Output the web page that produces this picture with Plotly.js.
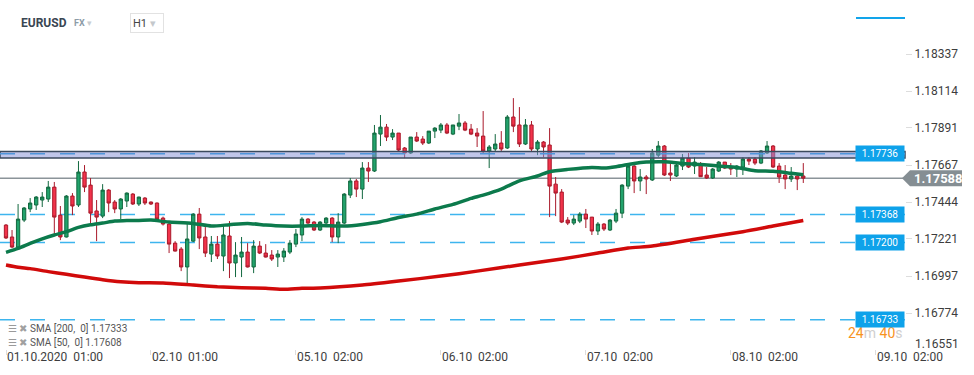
<!DOCTYPE html>
<html><head><meta charset="utf-8">
<script src="https://cdn.plot.ly/plotly-3.0.1.min.js"></script>
<style>html,body{margin:0;padding:0;background:#fff;}#chart{width:974px;height:375px;}</style>
</head><body><div id="chart"></div>
<script>
// ---- data (EURUSD H1) ----
const openP = [1.17305,1.17233,1.17172,1.17335,1.17402,1.17426,1.17456,1.17462,1.17534,1.17365,1.17233,1.17480,1.17426,1.17625,1.17546,1.17390,1.17359,1.17516,1.17444,1.17402,1.17450,1.17492,1.17432,1.17468,1.17444,1.17438,1.17347,1.17311,1.17196,1.17160,1.17052,1.17208,1.17371,1.17233,1.17130,1.17190,1.17118,1.17239,1.17076,1.17112,1.17142,1.17052,1.17178,1.17136,1.17124,1.17112,1.17112,1.17142,1.17190,1.17245,1.17341,1.17323,1.17275,1.17317,1.17347,1.17233,1.17317,1.17486,1.17571,1.17522,1.17649,1.17631,1.17854,1.17896,1.17836,1.17860,1.17770,1.17740,1.17836,1.17824,1.17800,1.17872,1.17878,1.17909,1.17854,1.17902,1.17921,1.17884,1.17860,1.17842,1.17752,1.17764,1.17800,1.17770,1.17957,1.17909,1.17794,1.17909,1.17764,1.17806,1.17788,1.17552,1.17504,1.17335,1.17317,1.17329,1.17371,1.17353,1.17269,1.17311,1.17275,1.17329,1.17377,1.17540,1.17661,1.17571,1.17595,1.17577,1.17727,1.17782,1.17619,1.17601,1.17661,1.17709,1.17661,1.17667,1.17607,1.17589,1.17631,1.17685,1.17655,1.17643,1.17655,1.17703,1.17703,1.17679,1.17740,1.17782,1.17661,1.17607,1.17583,1.17601,1.17601];
const highP = [1.17311,1.17275,1.17432,1.17414,1.17468,1.17480,1.17504,1.17571,1.17565,1.17420,1.17486,1.17498,1.17691,1.17667,1.17589,1.17456,1.17552,1.17522,1.17456,1.17468,1.17502,1.17498,1.17476,1.17474,1.17447,1.17441,1.17356,1.17323,1.17208,1.17172,1.17311,1.17377,1.17408,1.17293,1.17239,1.17239,1.17305,1.17329,1.17202,1.17233,1.17196,1.17214,1.17208,1.17190,1.17154,1.17154,1.17166,1.17214,1.17281,1.17353,1.17347,1.17329,1.17329,1.17353,1.17353,1.17377,1.17498,1.17589,1.17583,1.17685,1.17685,1.17909,1.17969,1.17915,1.17884,1.17860,1.17776,1.17836,1.17866,1.17842,1.17872,1.17896,1.17921,1.17921,1.17909,1.17975,1.17933,1.17915,1.17890,1.17993,1.17788,1.17854,1.17872,1.17969,1.18071,1.18017,1.17945,1.17933,1.17818,1.17812,1.17890,1.17595,1.17522,1.17353,1.17365,1.17383,1.17402,1.17353,1.17323,1.17317,1.17341,1.17402,1.17552,1.17667,1.17667,1.17643,1.17607,1.17764,1.17812,1.17788,1.17679,1.17679,1.17734,1.17740,1.17715,1.17685,1.17655,1.17649,1.17691,1.17685,1.17679,1.17667,1.17715,1.17715,1.17715,1.17758,1.17812,1.17788,1.17679,1.17667,1.17655,1.17619,1.17679];
const lowP = [1.17221,1.17166,1.17168,1.17323,1.17383,1.17396,1.17414,1.17444,1.17245,1.17214,1.17230,1.17365,1.17414,1.17504,1.17311,1.17208,1.17347,1.17383,1.17377,1.17341,1.17414,1.17426,1.17420,1.17426,1.17426,1.17335,1.17302,1.17136,1.17145,1.17027,1.16955,1.17202,1.17160,1.17112,1.17082,1.17100,1.17027,1.16985,1.16991,1.16991,1.17049,1.17015,1.17130,1.17109,1.17088,1.17052,1.17082,1.17130,1.17172,1.17208,1.17311,1.17269,1.17269,1.17311,1.17202,1.17196,1.17311,1.17468,1.17474,1.17462,1.17565,1.17625,1.17782,1.17812,1.17818,1.17752,1.17709,1.17734,1.17806,1.17788,1.17794,1.17830,1.17860,1.17854,1.17848,1.17878,1.17872,1.17848,1.17776,1.17740,1.17649,1.17746,1.17752,1.17764,1.17866,1.17776,1.17788,1.17752,1.17727,1.17715,1.17353,1.17359,1.17317,1.17305,1.17305,1.17317,1.17287,1.17245,1.17245,1.17269,1.17269,1.17317,1.17347,1.17522,1.17498,1.17510,1.17492,1.17571,1.17715,1.17601,1.17571,1.17595,1.17637,1.17649,1.17613,1.17595,1.17583,1.17583,1.17625,1.17643,1.17607,1.17595,1.17607,1.17667,1.17667,1.17673,1.17734,1.17649,1.17559,1.17522,1.17565,1.17516,1.17559];
const closeP = [1.17227,1.17172,1.17341,1.17408,1.17438,1.17474,1.17474,1.17534,1.17353,1.17233,1.17480,1.17420,1.17625,1.17534,1.17377,1.17353,1.17516,1.17438,1.17402,1.17462,1.17498,1.17432,1.17474,1.17438,1.17432,1.17341,1.17311,1.17190,1.17148,1.17052,1.17221,1.17371,1.17227,1.17136,1.17190,1.17118,1.17245,1.17076,1.17124,1.17142,1.17052,1.17178,1.17136,1.17112,1.17100,1.17130,1.17148,1.17196,1.17251,1.17341,1.17317,1.17275,1.17323,1.17347,1.17233,1.17323,1.17492,1.17571,1.17522,1.17649,1.17631,1.17860,1.17896,1.17836,1.17860,1.17758,1.17740,1.17836,1.17812,1.17800,1.17872,1.17890,1.17909,1.17860,1.17909,1.17921,1.17878,1.17854,1.17842,1.17752,1.17776,1.17794,1.17764,1.17957,1.17902,1.17794,1.17909,1.17764,1.17806,1.17776,1.17540,1.17498,1.17323,1.17317,1.17341,1.17371,1.17341,1.17269,1.17311,1.17281,1.17335,1.17377,1.17546,1.17661,1.17571,1.17595,1.17583,1.17740,1.17782,1.17607,1.17607,1.17667,1.17709,1.17655,1.17685,1.17597,1.17589,1.17643,1.17685,1.17649,1.17643,1.17661,1.17703,1.17691,1.17679,1.17752,1.17782,1.17655,1.17595,1.17583,1.17601,1.17583,1.17588];

// SMA 50 (green) readings, candle index -> value
const sma50Idx = [0,2,4,6,8,10,12,14,16,18,20,22,24,26,27,31,34,37,40,43,46,49,52,56,59,62,65,68,71,74,77,79,82,85,88,90,93,97,99,101,104,106,109,112,115,118,121,124,127,130,132];
const sma50Val = [1.17140,1.17164,1.17194,1.17222,1.17245,1.17265,1.17291,1.17307,1.17317,1.17329,1.17333,1.17333,1.17335,1.17327,1.17323,1.17315,1.17299,1.17307,1.17315,1.17305,1.17299,1.17299,1.17303,1.17299,1.17309,1.17325,1.17351,1.17371,1.17402,1.17430,1.17466,1.17486,1.17522,1.17572,1.17601,1.17627,1.17641,1.17653,1.17649,1.17657,1.17677,1.17685,1.17687,1.17677,1.17671,1.17661,1.17653,1.17633,1.17629,1.17617,1.17608];
// SMA 200 (red) readings
const sma200Idx = [0,2,4,7,10,13,16,19,22,26,31,35,39,43,46,49,52,59,65,72,78,85,92,98,103,107,114,122,127,132];
const sma200Val = [1.17064,1.17050,1.17042,1.17024,1.17008,1.16991,1.16975,1.16963,1.16957,1.16955,1.16943,1.16933,1.16927,1.16923,1.16917,1.16923,1.16925,1.16943,1.16967,1.16997,1.17027,1.17064,1.17100,1.17136,1.17166,1.17178,1.17219,1.17265,1.17299,1.17333];

const levelLines = [1.17368, 1.17200, 1.16733];
const bandLevel = 1.17736;
const bandLow = 1.17709, bandHigh = 1.17749;
const lastPrice = 1.17588;
const sma200Last = 1.17333, sma50Last = 1.17608;

const yTickVals = [1.18337,1.18114,1.17891,1.17667,1.17444,1.17221,1.16997,1.16774];
const yBottomLabel = 1.16551;
const xTickIdx = [0,24,48,72,96,120,144];
const xTickText = ["01.10.2020\u00a0\u00a001:00","02.10\u00a0\u00a001:00","05.10\u00a0\u00a002:00","06.10\u00a0\u00a002:00","07.10\u00a0\u00a002:00","08.10\u00a0\u00a002:00","09.10\u00a0\u00a002:00"];

const FONT = 'Roboto, "Open Sans", sans-serif';
const idx = openP.map((_, i) => i);

const traces = [
  {
    type: 'candlestick', x: idx, open: openP, high: highP, low: lowP, close: closeP,
    increasing: {fillcolor: '#22a36c', line: {color: '#12683f', width: 1}},
    decreasing: {fillcolor: '#f2334b', line: {color: '#a91a2b', width: 1}},
    whiskerwidth: 0, hoverinfo: 'skip', showlegend: false
  },
  {type: 'scatter', mode: 'lines', x: sma200Idx, y: sma200Val, line: {color: '#d10a0a', width: 3.5, shape: 'spline', smoothing: 0.6}, hoverinfo: 'skip', showlegend: false},
  {type: 'scatter', mode: 'lines', x: sma50Idx, y: sma50Val, line: {color: '#0c7a4c', width: 3.5, shape: 'spline', smoothing: 0.6}, hoverinfo: 'skip', showlegend: false}
];

const shapes = [];
levelLines.forEach(v => shapes.push({type: 'line', xref: 'paper', x0: 0, x1: 1, yref: 'y', y0: v, y1: v, line: {color: '#3db5ee', width: 1.5, dash: '15px,15px'}, layer: 'below'}));
shapes.push({type: 'line', xref: 'paper', x0: 0, x1: 1, yref: 'y', y0: lastPrice, y1: lastPrice, line: {color: '#8b9499', width: 1.5}, layer: 'below'});
shapes.push({type: 'rect', xref: 'paper', x0: 0, x1: 1, yref: 'y', y0: bandLow, y1: bandHigh, fillcolor: 'rgba(135,145,215,0.52)', line: {color: '#3b4a5d', width: 1.5}, layer: 'above'});
shapes.push({type: 'line', xref: 'paper', x0: 0, x1: 1, yref: 'y', y0: bandLevel, y1: bandLevel, line: {color: '#5096dc', width: 1.5, dash: '15px,15px'}, layer: 'above'});
shapes.push({type: 'path', xref: 'paper', xsizemode: 'pixel', xanchor: 1, yref: 'y', ysizemode: 'pixel', yanchor: lastPrice,
  path: 'M -3 0 L 5 8 L 57 8 L 57 -8 L 5 -8 Z', fillcolor: '#858e93', line: {width: 0}, layer: 'above'});
shapes.push({type: 'line', xref: 'paper', xsizemode: 'pixel', xanchor: 1, x0: -49, x1: 0, yref: 'paper', ysizemode: 'pixel', yanchor: 1, y0: 17, y1: 17, line: {color: '#12a4ea', width: 2}});

const ann = [];
// timer (partly hidden by the level label, as in the source)
ann.push({xref: 'paper', x: 1, xanchor: 'right', yref: 'y', y: levelLines[2], yanchor: 'middle', yshift: -13, showarrow: false,
  text: "<span style='color:#f7931e'>24</span><span style='color:#cfcfcf'>m</span> <span style='color:#f7931e'>40</span><span style='color:#cfcfcf'>s</span>",
  font: {family: FONT, size: 14}});
[bandLevel].concat(levelLines).forEach(v => ann.push({xref: 'paper', x: 1, xanchor: 'right', yref: 'y', y: v, yanchor: 'middle', showarrow: false,
  text: v.toFixed(5), bgcolor: '#0ea2ea', width: 48, height: 15, borderpad: 0, font: {family: FONT, size: 10, color: '#ffffff'}}));
ann.push({xref: 'paper', x: 1, xanchor: 'left', xshift: 7, yref: 'y', y: lastPrice, yanchor: 'middle', showarrow: false,
  text: '<b>' + lastPrice.toFixed(5) + '</b>', font: {family: FONT, size: 13, color: '#ffffff'}});
ann.push({xref: 'paper', x: 1, xanchor: 'left', xshift: 8, yref: 'paper', y: 0, yanchor: 'middle', yshift: 5, showarrow: false,
  text: yBottomLabel.toFixed(5), font: {family: FONT, size: 12, color: '#3d3d3d'}});
xTickIdx.forEach((t, i) => ann.push({xref: 'x', x: t, xanchor: 'left', xshift: -1, yref: 'paper', y: 0, yanchor: 'middle', yshift: -8, showarrow: false,
  text: xTickText[i], font: {family: FONT, size: 12, color: '#3d3d3d'}}));
// legend
[["SMA [200,\u00a0\u00a00] " + sma200Last.toFixed(5), 21], ["SMA [50,\u00a0\u00a00] " + sma50Last.toFixed(5), 7]].forEach(r => {
  ann.push({xref: 'paper', x: 0, xanchor: 'left', xshift: 6, yref: 'paper', y: 0, yanchor: 'middle', yshift: r[1], showarrow: false,
    text: "<span style='color:#9a9a9a'>\u2630</span> <span style='color:#a0a0a0'>\u2716</span> " + r[0], font: {family: FONT, size: 10, color: '#555555'}});
});
// header
ann.push({xref: 'paper', x: 0, xanchor: 'left', xshift: 19, yref: 'paper', y: 1, yanchor: 'middle', yshift: 12, showarrow: false,
  text: '<b>EURUSD</b>', font: {family: FONT, size: 12, color: '#3a4652'}});
ann.push({xref: 'paper', x: 0, xanchor: 'left', xshift: 72, yref: 'paper', y: 1, yanchor: 'middle', yshift: 12, showarrow: false,
  text: "<b>FX</b> <span style='color:#c9cdd1'>\u25BE</span>", font: {family: FONT, size: 9, color: '#8d9ca7'}});
ann.push({xref: 'paper', x: 0, xanchor: 'left', xshift: 130, yref: 'paper', y: 1, yanchor: 'middle', yshift: 12, showarrow: false,
  text: "H1 <span style='color:#c4c8cc'>\u25BE</span>", width: 28, height: 14, align: 'left', bordercolor: '#e2e2e2', borderwidth: 1, borderpad: 2,
  font: {family: FONT, size: 11, color: '#444'}});

const layout = {
  width: 974, height: 375,
  margin: {l: 0, r: 69, t: 35, b: 26},
  paper_bgcolor: '#ffffff', plot_bgcolor: '#ffffff',
  boxgap: 0.22,
  showlegend: false,
  font: {family: FONT},
  xaxis: {type: 'linear', range: [-0.993, 148.84], showgrid: false, zeroline: false, showline: false,
    rangeslider: {visible: false}, tickmode: 'array', tickvals: xTickIdx, showticklabels: false,
    ticks: 'outside', ticklen: 5, tickcolor: '#dddddd', fixedrange: true},
  yaxis: {side: 'right', range: [1.16557, 1.18452], showgrid: false, zeroline: false, showline: false,
    tickmode: 'array', tickvals: yTickVals, ticktext: yTickVals.map(v => v.toFixed(5)),
    ticks: 'outside', ticklen: 6, tickcolor: '#dddddd', tickfont: {family: FONT, size: 12, color: '#3d3d3d'}, fixedrange: true},
  shapes: shapes,
  annotations: ann
};

Plotly.newPlot('chart', traces, layout, {displayModeBar: false, staticPlot: true});
</script>
</body></html>
